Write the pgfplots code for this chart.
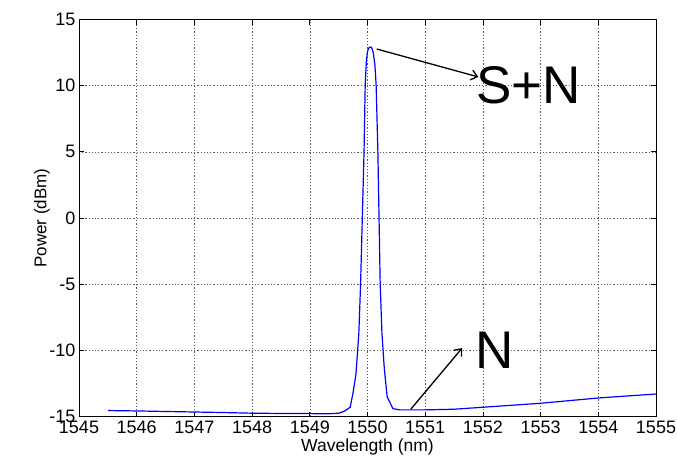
\documentclass[border=0pt]{standalone}
\usepackage{pgfplots}
\pgfplotsset{compat=1.18}
\usepackage{fontspec}
\setmainfont{Liberation Sans}
\usetikzlibrary{arrows.meta}

\begin{document}
\begin{tikzpicture}
\path[use as bounding box] (-79pt,-39.5pt) rectangle (598pt,416.5pt);
\begin{axis}[%
width=577pt,
height=397pt,
at={(0pt,0pt)},
scale only axis,
xmin=1545, xmax=1555,
ymin=-15, ymax=15,
xtick={1545,1546,...,1555},
ytick={-15,-10,...,15},
xlabel={Wavelength (nm)},
ylabel={Power (dBm)},
xlabel style={font=\fontsize{17.5}{19}\selectfont, at={(axis description cs:0.5,0)}, anchor=center, yshift=-30pt},
ylabel style={font=\fontsize{17}{19}\selectfont, at={(axis description cs:0,0.5)}, anchor=center, yshift=37pt},
ticklabel style={font=\fontsize{18}{19}\selectfont},
xticklabel style={yshift=-1pt},
/pgf/number format/assume math mode=true,
/pgf/number format/1000 sep={},
tick align=inside,
major tick length=5pt,
tick style={black, line width=0.8pt},
axis line style={black, line width=0.8pt},
grid=major,
major grid style={black!65, line width=0.6pt, dash pattern=on 1.2pt off 2pt},
axis background/.style={fill=white},
clip=false
]
\addplot[color=blue, line width=1.2pt] table[row sep=crcr] {%
x	y\\
1545.5	-14.55\\
1546	-14.58\\
1546.5	-14.62\\
1547	-14.66\\
1547.5	-14.70\\
1548	-14.75\\
1548.5	-14.77\\
1549	-14.78\\
1549.3	-14.80\\
1549.5	-14.75\\
1549.6	-14.6\\
1549.7	-14.3\\
1549.75	-13.2\\
1549.8	-11.8\\
1549.85	-8.7\\
1549.88	-5\\
1549.91	0\\
1549.94	5\\
1549.96	10\\
1549.98	11.8\\
1550.0	12.6\\
1550.03	12.9\\
1550.07	12.9\\
1550.1	12.5\\
1550.13	11.5\\
1550.15	10\\
1550.18	5\\
1550.2	0\\
1550.22	-5\\
1550.25	-8.7\\
1550.29	-11.3\\
1550.34	-13.5\\
1550.44	-14.4\\
1550.56	-14.5\\
1551	-14.5\\
1551.5	-14.45\\
1552	-14.3\\
1552.5	-14.15\\
1553	-14.0\\
1553.5	-13.8\\
1554	-13.6\\
1554.5	-13.45\\
1555	-13.3\\
};

\draw[-{Straight Barb[length=6pt,width=10pt]}, line width=1.3pt] (axis cs:1550.16,12.77) -- (axis cs:1551.92,10.66);
\node[anchor=west, inner sep=0pt, font=\fontsize{53}{56}\selectfont] at (axis cs:1551.88,10.0) {S+N};
\draw[-{Straight Barb[length=6pt,width=10pt]}, line width=1.3pt] (axis cs:1550.75,-14.45) -- (axis cs:1551.64,-9.83);
\node[anchor=west, inner sep=0pt, font=\fontsize{53}{56}\selectfont] at (axis cs:1551.86,-10.0) {N};
\end{axis}
\end{tikzpicture}
\end{document}
